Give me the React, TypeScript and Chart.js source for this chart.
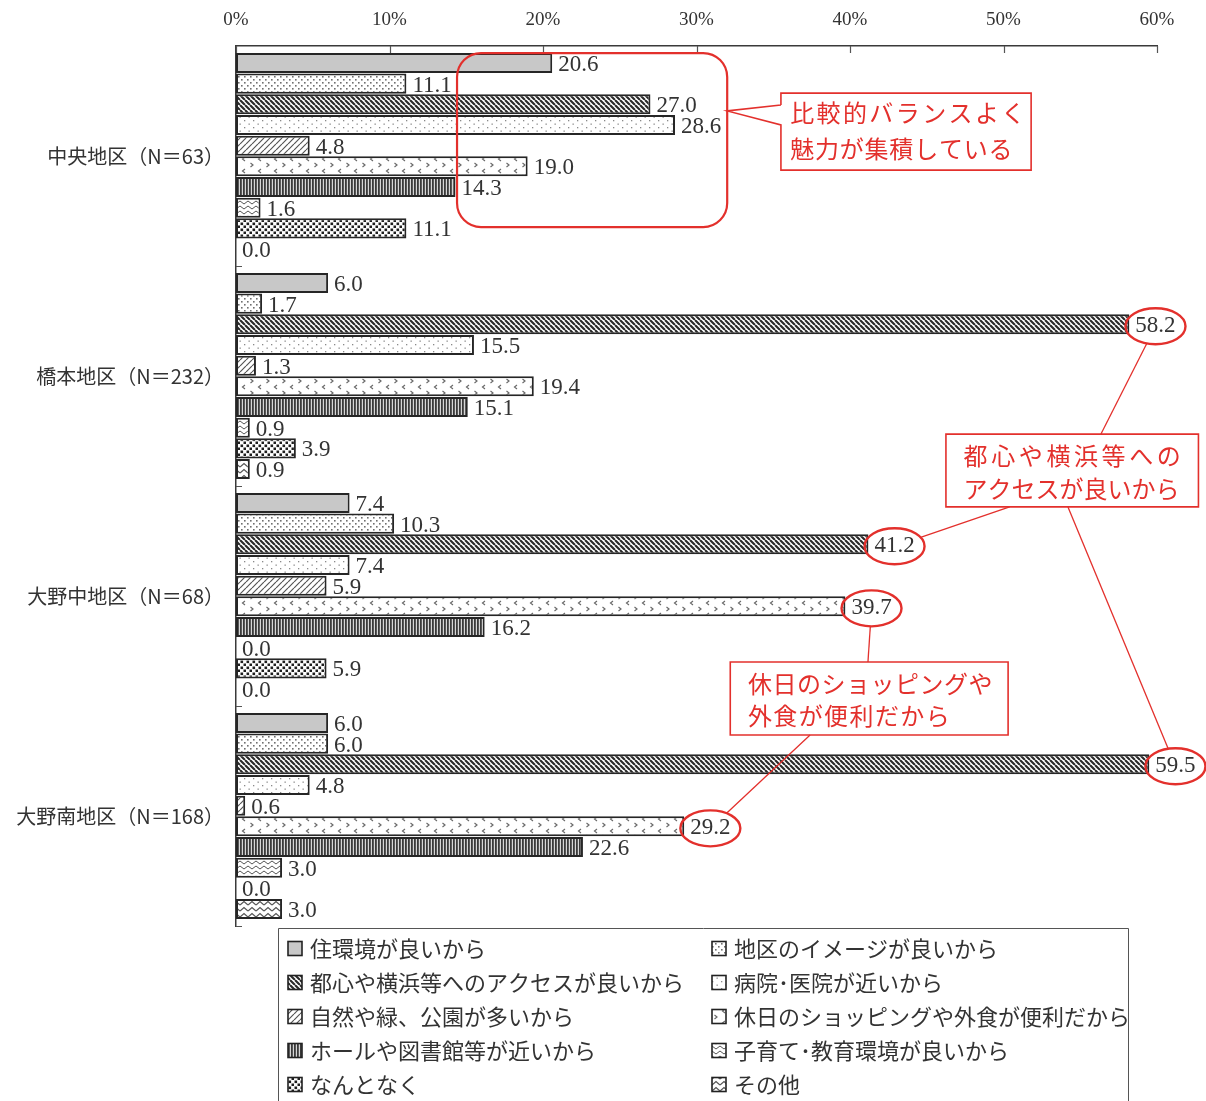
import React, { useEffect, useRef } from 'react';
import { Chart, registerables } from 'chart.js';

Chart.register(...registerables);

// ---------- data ----------
const categories = ['中央地区（N＝63）', '橋本地区（N＝232）', '大野中地区（N＝68）', '大野南地区（N＝168）'];
const seriesNames = [
  '住環境が良いから',
  '地区のイメージが良いから',
  '都心や横浜等へのアクセスが良いから',
  '病院･医院が近いから',
  '自然や緑、公園が多いから',
  '休日のショッピングや外食が便利だから',
  'ホールや図書館等が近いから',
  '子育て･教育環境が良いから',
  'なんとなく',
  'その他',
];
const sJukankyo = [20.6, 6.0, 7.4, 6.0];
const sImage = [11.1, 1.7, 10.3, 6.0];
const sAccess = [27.0, 58.2, 41.2, 59.5];
const sHospital = [28.6, 15.5, 7.4, 4.8];
const sNature = [4.8, 1.3, 5.9, 0.6];
const sShopping = [19.0, 19.4, 39.7, 29.2];
const sHall = [14.3, 15.1, 16.2, 22.6];
const sKosodate = [1.6, 0.9, 0.0, 3.0];
const sNantonaku = [11.1, 3.9, 5.9, 0.0];
const sOther = [0.0, 0.9, 0.0, 3.0];
const seriesValues = [sJukankyo, sImage, sAccess, sHospital, sNature, sShopping, sHall, sKosodate, sNantonaku, sOther];
const xTickValues = [0, 10, 20, 30, 40, 50, 60];

// ---------- annotations (data coordinates: x in %, y in category index) ----------
const RED = '#e3302c';
const highlighted = [
  { ds: 2, idx: 1 },
  { ds: 2, idx: 2 },
  { ds: 5, idx: 2 },
  { ds: 2, idx: 3 },
  { ds: 5, idx: 3 },
];
const roundedRect = { x0: 14.4, x1: 32.0, y0: -0.468, y1: 0.323 };
const callouts = [
  {
    x0: 35.5, x1: 51.8, y0: -0.286, y1: 0.064, textX: 36.1,
    lines: [
      { text: '比較的バランスよく', y: -0.195, ls: 2.4 },
      { text: '魅力が集積している', y: -0.032, ls: 0.8 },
    ],
    pointer: { tipX: 32.0, tipY: -0.205, baseY0: -0.232, baseY1: -0.141 },
    links: [] as { x: number; y: number; h: number }[],
  },
  {
    x0: 46.25, x1: 62.7, y0: 1.264, y1: 1.595, textX: 47.4,
    lines: [
      { text: '都心や横浜等への', y: 1.364, ls: 3.6 },
      { text: 'アクセスが良いから', y: 1.514, ls: 0 },
    ],
    pointer: null,
    links: [
      { x: 56.35, y: 1.264, h: 0 },
      { x: 50.4, y: 1.595, h: 1 },
      { x: 54.2, y: 1.595, h: 3 },
    ],
  },
  {
    x0: 32.2, x1: 50.3, y0: 2.3, y1: 2.632, textX: 33.35,
    lines: [
      { text: '休日のショッピングや', y: 2.4, ls: 0.5 },
      { text: '外食が便利だから', y: 2.545, ls: 1.4 },
    ],
    pointer: null,
    links: [
      { x: 41.17, y: 2.3, h: 2 },
      { x: 37.4, y: 2.632, h: 4 },
    ],
  },
];

const LABEL_FONT = '23px "Liberation Serif"';
const JP = '"Noto Sans CJK JP"';

// ---------- patterns ----------
function tile(w: number, h: number, draw: (c: CanvasRenderingContext2D) => void, bg = '#ffffff') {
  const cv = document.createElement('canvas');
  cv.width = w;
  cv.height = h;
  const c = cv.getContext('2d')!;
  c.fillStyle = bg;
  c.fillRect(0, 0, w, h);
  draw(c);
  return c.createPattern(cv, 'repeat')!;
}
function diag(c: CanvasRenderingContext2D, s: number, down: boolean, color: string, lw: number) {
  c.strokeStyle = color;
  c.lineWidth = lw;
  c.beginPath();
  for (const o of [-s, 0, s]) {
    if (down) {
      c.moveTo(o, 0);
      c.lineTo(o + s, s);
    } else {
      c.moveTo(o, s);
      c.lineTo(o + s, 0);
    }
  }
  c.stroke();
}
function makePatterns(): (string | CanvasPattern)[] {
  return [
    '#c8c8c8',
    tile(6, 6, (c) => {
      c.fillStyle = '#707070';
      c.fillRect(1, 1, 1.6, 1.6);
      c.fillRect(4, 4, 1.6, 1.6);
    }),
    tile(5, 5, (c) => diag(c, 5, true, '#2a2a2a', 2.1)),
    tile(9, 7, (c) => {
      c.fillStyle = '#8a8a8a';
      c.fillRect(1, 1, 1.3, 1.3);
      c.fillRect(5.5, 4.5, 1.3, 1.3);
    }),
    tile(6, 6, (c) => diag(c, 6, false, '#555', 1.2)),
    tile(16, 12, (c) => {
      c.strokeStyle = '#6a6a6a';
      c.lineWidth = 1.2;
      c.beginPath();
      c.moveTo(5, 1); c.lineTo(2.5, 3); c.lineTo(5, 5);
      c.moveTo(10.5, 7); c.lineTo(13, 9); c.lineTo(10.5, 11);
      c.stroke();
    }),
    tile(3, 1, (c) => {
      c.fillStyle = '#3a3a3a';
      c.fillRect(0, 0, 1.8, 1);
    }, '#d6d6d6'),
    tile(8, 5, (c) => {
      c.strokeStyle = '#555';
      c.lineWidth = 1;
      c.beginPath();
      c.moveTo(0, 1); c.lineTo(4, 4); c.lineTo(8, 1);
      c.stroke();
    }),
    tile(6, 6, (c) => {
      c.fillStyle = '#1e1e1e';
      c.fillRect(0.5, 0.5, 2.6, 2.6);
      c.fillRect(3.5, 3.5, 2.6, 2.6);
    }),
    tile(8, 6, (c) => {
      c.strokeStyle = '#555';
      c.lineWidth = 1.2;
      c.beginPath();
      c.moveTo(0, 5); c.lineTo(4, 1.5); c.lineTo(8, 5);
      c.stroke();
    }),
  ];
}

// ---------- plugins ----------
const LABEL_DY = 2;

const dataLabelPlugin = {
  id: 'dataLabels',
  afterDatasetsDraw(chart: any) {
    const ctx = chart.ctx as CanvasRenderingContext2D;
    ctx.save();
    ctx.font = LABEL_FONT;
    ctx.fillStyle = '#333';
    ctx.textAlign = 'left';
    ctx.textBaseline = 'middle';
    chart.data.datasets.forEach((ds: any, i: number) => {
      const meta = chart.getDatasetMeta(i);
      meta.data.forEach((el: any, j: number) => {
        ctx.fillText(Number(ds.data[j]).toFixed(1), el.x + 6, el.y + LABEL_DY);
      });
    });
    ctx.restore();
  },
};

const axisTicksPlugin = {
  id: 'axisTicks',
  afterDraw(chart: any) {
    const ctx = chart.ctx as CanvasRenderingContext2D;
    const { x, y } = chart.scales;
    const area = chart.chartArea;
    ctx.save();
    ctx.strokeStyle = '#555';
    ctx.lineWidth = 1.2;
    ctx.beginPath();
    xTickValues.forEach((v) => {
      const px = Math.round(x.getPixelForValue(v)) + 0.5;
      ctx.moveTo(px, area.top);
      ctx.lineTo(px, area.top + 7);
    });
    for (let i = 1; i <= categories.length; i++) {
      const py = Math.round(y.getPixelForValue(i - 0.5)) + 0.5;
      ctx.moveTo(area.left, py);
      ctx.lineTo(area.left + 6, py);
    }
    ctx.stroke();
    ctx.restore();
  },
};

function labelCenter(chart: any, ds: number, idx: number) {
  const ctx = chart.ctx as CanvasRenderingContext2D;
  const el = chart.getDatasetMeta(ds).data[idx];
  ctx.save();
  ctx.font = LABEL_FONT;
  const w = ctx.measureText(Number(chart.data.datasets[ds].data[idx]).toFixed(1)).width;
  ctx.restore();
  return { cx: el.x + 6 + w / 2, cy: el.y + LABEL_DY };
}

const annotationPlugin = {
  id: 'annotations',
  afterDraw(chart: any) {
    const ctx = chart.ctx as CanvasRenderingContext2D;
    const { x, y } = chart.scales;
    const X = (v: number) => x.getPixelForValue(v);
    const Y = (v: number) => y.getPixelForValue(v);
    const rx = 30;
    const ry = 18;
    ctx.save();
    ctx.strokeStyle = RED;

    // rounded rectangle
    ctx.lineWidth = 2.2;
    ctx.beginPath();
    ctx.roundRect(X(roundedRect.x0), Y(roundedRect.y0), X(roundedRect.x1) - X(roundedRect.x0), Y(roundedRect.y1) - Y(roundedRect.y0), 24);
    ctx.stroke();

    // ellipses
    const centers = highlighted.map((h) => labelCenter(chart, h.ds, h.idx));
    ctx.lineWidth = 2.4;
    centers.forEach((c) => {
      ctx.beginPath();
      ctx.ellipse(c.cx, c.cy, rx, ry, 0, 0, Math.PI * 2);
      ctx.stroke();
    });

    callouts.forEach((co) => {
      const bx0 = X(co.x0), bx1 = X(co.x1), by0 = Y(co.y0), by1 = Y(co.y1);
      ctx.lineWidth = 1.6;
      ctx.beginPath();
      if (co.pointer) {
        const p = co.pointer;
        const b0 = Y(p.baseY0), b1 = Y(p.baseY1);
        ctx.moveTo(bx0, b0);
        ctx.lineTo(bx0, by0);
        ctx.lineTo(bx1, by0);
        ctx.lineTo(bx1, by1);
        ctx.lineTo(bx0, by1);
        ctx.lineTo(bx0, b1);
        ctx.lineTo(X(p.tipX), Y(p.tipY));
        ctx.lineTo(bx0, b0);
      } else {
        ctx.rect(bx0, by0, bx1 - bx0, by1 - by0);
      }
      ctx.stroke();

      ctx.lineWidth = 1.3;
      co.links.forEach((l) => {
        const px = X(l.x), py = Y(l.y);
        const c = centers[l.h];
        const dx = px - c.cx, dy = py - c.cy;
        const s = 1 / Math.sqrt((dx / rx) ** 2 + (dy / ry) ** 2);
        ctx.beginPath();
        ctx.moveTo(px, py);
        ctx.lineTo(c.cx + dx * s, c.cy + dy * s);
        ctx.stroke();
      });

      ctx.fillStyle = RED;
      ctx.font = `24px ${JP}`;
      ctx.textAlign = 'left';
      ctx.textBaseline = 'middle';
      co.lines.forEach((ln) => {
        (ctx as any).letterSpacing = `${ln.ls}px`;
        ctx.fillText(ln.text, X(co.textX), Y(ln.y));
      });
      (ctx as any).letterSpacing = '0px';
    });
    ctx.restore();
  },
};

const legendPlugin = {
  id: 'customLegend',
  afterDraw(chart: any) {
    const ctx = chart.ctx as CanvasRenderingContext2D;
    const area = chart.chartArea;
    const boxLeft = 278.5, boxRight = 1128.5, boxTop = area.bottom + 2.5;
    ctx.save();
    ctx.strokeStyle = '#555';
    ctx.lineWidth = 1;
    ctx.beginPath();
    ctx.moveTo(boxLeft, chart.height + 5);
    ctx.lineTo(boxLeft, boxTop);
    ctx.lineTo(boxRight, boxTop);
    ctx.lineTo(boxRight, chart.height + 5);
    ctx.stroke();

    ctx.font = `22px ${JP}`;
    ctx.textAlign = 'left';
    ctx.textBaseline = 'middle';
    chart.data.datasets.forEach((ds: any, i: number) => {
      const col = i % 2;
      const row = Math.floor(i / 2);
      const sx = col === 0 ? 288 : 712;
      const cy = boxTop + 20 + row * 34;
      ctx.fillStyle = ds.backgroundColor;
      ctx.fillRect(sx, cy - 7, 14, 14);
      ctx.strokeStyle = '#222';
      ctx.lineWidth = 1.6;
      ctx.strokeRect(sx, cy - 7, 14, 14);
      ctx.fillStyle = '#333';
      ctx.fillText(ds.label, sx + 22, cy);
    });
    ctx.restore();
  },
};

export default function App() {
  const canvasRef = useRef<HTMLCanvasElement | null>(null);

  useEffect(() => {
    if (!canvasRef.current) return;
    const patterns = makePatterns();
    const chart = new Chart(canvasRef.current, {
      type: 'bar',
      data: {
        labels: categories,
        datasets: seriesNames.map((name, i) => ({
          label: name,
          data: seriesValues[i],
          backgroundColor: patterns[i] as any,
          borderColor: '#262626',
          borderWidth: 2,
          borderSkipped: false,
          categoryPercentage: 0.94,
          barPercentage: 0.97,
        })),
      },
      options: {
        indexAxis: 'y',
        animation: false,
        responsive: false,
        maintainAspectRatio: false,
        layout: { padding: { left: 0, top: 0, right: 49, bottom: 175 } },
        plugins: {
          legend: { display: false },
          tooltip: { enabled: false },
        },
        scales: {
          x: {
            position: 'top',
            min: 0,
            max: 60,
            afterBuildTicks: (scale: any) => {
              scale.ticks = xTickValues.map((v) => ({ value: v }));
            },
            afterFit: (scale: any) => {
              scale.height = 46;
            },
            grid: { display: false, drawTicks: false },
            border: { display: true, color: '#3a3a3a', width: 1.5 },
            ticks: {
              padding: 15,
              color: '#333',
              font: { family: 'Liberation Serif', size: 19 },
              callback: (v: any) => `${v}%`,
            },
          },
          y: {
            afterFit: (scale: any) => {
              scale.width = 236;
            },
            grid: { display: false, drawTicks: false },
            border: { display: true, color: '#3a3a3a', width: 1.5 },
            ticks: {
              padding: 12,
              color: '#333',
              font: { family: 'Noto Sans CJK JP', size: 20 },
            },
          },
        },
      },
      plugins: [dataLabelPlugin, axisTicksPlugin, annotationPlugin, legendPlugin],
    } as any);
    return () => chart.destroy();
  }, []);

  return (
    <div style={{ position: 'absolute', left: 0, top: 0, width: 1206, height: 1101, background: '#fff' }}>
      <canvas ref={canvasRef} width={1206} height={1101} />
    </div>
  );
}
